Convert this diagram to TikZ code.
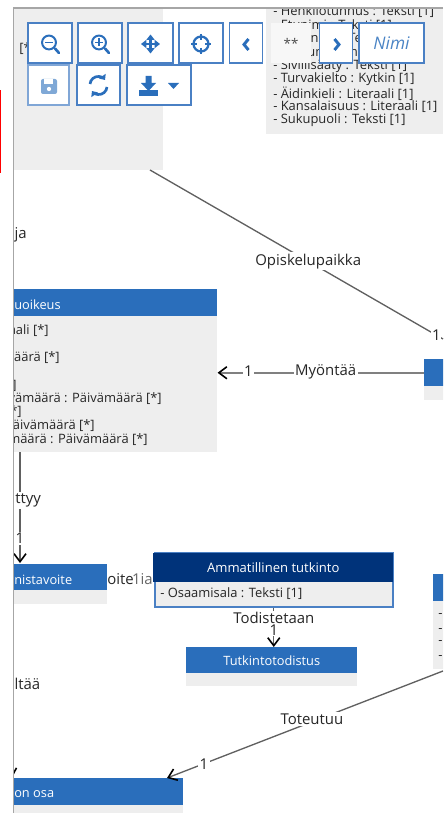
\documentclass[tikz,border=0pt]{standalone}
\usepackage{fontspec}
\setmainfont{Open Sans}
\usetikzlibrary{arrows.meta}
\definecolor{classblue}{HTML}{2A6EBB}
\definecolor{darkblue}{HTML}{00337A}
\definecolor{classgray}{HTML}{EEEEEE}
\definecolor{btnblue}{HTML}{4A80C4}
\definecolor{linegray}{HTML}{606060}
\tikzset{
	classhead/.style={fill=classblue, text=white, inner sep=0pt, font=\fontsize{9.6}{11}\selectfont},
	classbody/.style={fill=classgray, inner sep=0pt},
	headtxt/.style={anchor=west, inner sep=0pt, yshift=-0.7pt, text=white, font=\fontsize{9.6}{11}\selectfont},
	attr/.style={anchor=west, inner sep=0pt, yshift=-1.2pt, font=\fontsize{9.7}{11}\selectfont, text=black!85},
	lbl/.style={fill=white, inner sep=1pt, font=\fontsize{11.2}{13}\selectfont, text=black!85},
	btn/.style={draw=btnblue, line width=1pt, fill=white, minimum height=40*0.75pt, inner sep=0pt},
	conn/.style={draw=linegray, line width=1pt},
	tip/.style={-{Straight Barb[black,length=6pt,width=9pt,line width=1.2pt]}}
}
\begin{document}
\begin{tikzpicture}[x=0.75pt,y=-0.75pt]
	\useasboundingbox (0,0) rectangle (443,813);
	% frame and clipped page area
	\fill[red] (0,90) rectangle (1,173);
	\begin{scope}
		\clip (14,8) rectangle (443,813);
		% top classes
		\node (topleft) [classbody, minimum width=150*0.75pt, minimum height=161*0.75pt, anchor=north west] at (13,9) {};
		\node (person) [classbody, minimum width=177*0.75pt, minimum height=125*0.75pt, anchor=north west] at (266,9) {};
		\node (rowa) [attr] at (273,10.5) {- Henkilötunnus : Teksti [1]};
		\node (rowb) [attr] at (273,24) {- Etunimi : Teksti [1]};
		\node (rowc) [attr] at (273,37.5) {- Sukunimi : Teksti [1]};
		\node (rowd) [attr] at (273,51) {- Kutsumanimi : Teksti [1]};
		\node (rowe) [attr] at (273,64.5) {- Siviilisääty : Teksti [1]};
		\node (rowf) [attr] at (273,78) {- Turvakielto : Kytkin [1]};
		\node (rowg) [attr] at (273,92) {- Äidinkieli : Literaali [1]};
		\node (rowh) [attr] at (273,105) {- Kansalaisuus : Literaali [1]};
		\node (rowi) [attr] at (273,119) {- Sukupuoli : Teksti [1]};
		\node (star) [attr] at (19,47) {[*};
		% right edge classes
		\node (myontaja) [classhead, minimum width=40*0.75pt, minimum height=27*0.75pt, anchor=north west] at (424,359) {};
		\node (myontajabody) [classbody, minimum width=40*0.75pt, minimum height=14*0.75pt, anchor=north west] at (424,386) {};
		\node (toteutus) [classhead, minimum width=30*0.75pt, minimum height=27*0.75pt, anchor=north west] at (433,574) {};
		\node (toteutusbody) [classbody, minimum width=30*0.75pt, minimum height=68*0.75pt, anchor=north west] at (433,601) {};
		\foreach \y in {614,629,641,656} \node [attr] at (438,\y) {-};
		% oikeus
		\node (oikeus) [classhead, minimum width=204*0.75pt, minimum height=27*0.75pt, anchor=north west] at (13,289) {};
		\node (oikeustxt) [headtxt] at (14,304) {uoikeus};
		\node (oikeusbody) [classbody, minimum width=204*0.75pt, minimum height=136*0.75pt, anchor=north west] at (13,316) {};
		\node (oa) [attr, anchor=east] at (49,329) {aali [*]};
		\node (ob) [attr, anchor=east] at (60,356) {näärä [*]};
		\node (oc) [attr, anchor=east] at (17,384) {]};
		\node (od) [attr, anchor=east] at (162,397) {ivämäärä : Päivämäärä [*]};
		\node (oe) [attr, anchor=east] at (22,410) {*]};
		\node (of) [attr, anchor=east] at (95,424) {Päivämäärä [*]};
		\node (og) [attr, anchor=east] at (148,438) {määrä : Päivämäärä [*]};
		% koulutus
		\node (tavoite) [classhead, minimum width=94*0.75pt, minimum height=26*0.75pt, anchor=north west] at (13,564) {};
		\node (tavoitetxt) [headtxt] at (14,579) {nistavoite};
		\node (tavoitebody) [classbody, minimum width=94*0.75pt, minimum height=14*0.75pt, anchor=north west] at (13,590) {};
		\node (osa) [classhead, minimum width=170*0.75pt, minimum height=27*0.75pt, anchor=north west] at (13,778) {};
		\node (osatxt) [headtxt] at (14,793) {on osa};
		\node (osabody) [classbody, minimum width=170*0.75pt, minimum height=10*0.75pt, anchor=north west] at (13,805) {};
		% connectors at the frame
		\coordinate (kohde) at (20,452);
		\draw[conn, tip] (kohde) -- node[lbl, anchor=west, pos=0.425, xshift=-5pt, yshift=-1pt] {ttyy} node[lbl, pos=0.78] {1} (20,563);
		\coordinate (sisalto) at (0,700);
		\draw[conn, tip] (sisalto) -- (12,778);
		\node (ja) [lbl, fill=none, anchor=west] at (13,235) {ja};
		\node (sisaltaa) [lbl, fill=none, anchor=west] at (13,684) {ltää};
	\end{scope}
	\draw[black!35, line width=1.1pt] (443,8) -- (13.5,8) -- (13.5,813);
	% centre classes
	\node (tutkinto) [draw=btnblue, line width=1.2pt, fill=classgray, minimum width=238*0.75pt, minimum height=54*0.75pt, anchor=north west, inner sep=0pt] at (154,552) {};
	\node (tutkintohead) [fill=darkblue, text=white, minimum width=240*0.75pt, minimum height=29*0.75pt, anchor=north west, inner sep=0pt, yshift=-0.5pt, font=\fontsize{9.8}{11}\selectfont] at (153,552) {Ammatillinen tutkinto};
	\node (osaamisala) [attr] at (160,592) {- Osaamisala : Teksti [1]};
	\node (todistus) [classhead, minimum width=171*0.75pt, minimum height=26*0.75pt, anchor=north west] at (186,647) {Tutkintotodistus};
	\node (todistusbody) [classbody, minimum width=171*0.75pt, minimum height=13*0.75pt, anchor=north west] at (186,673) {};
	% connectors with labels
	\coordinate (paikka) at (150,170);
	\coordinate (oikea) at (443,339);
	\draw[conn] (paikka) -- node[lbl, pos=0.54] {Opiskelupaikka} node[lbl, pos=0.977, inner sep=0.5pt] {1} (oikea);
	\draw[conn, line width=1.2pt, draw=black!50, tip] (myontaja.west) -- node[lbl, pos=0.476, yshift=1pt] {Myöntää} node[lbl, pos=0.85, yshift=1pt] {1} (oikeusbody.east |- myontaja.west);
	\coordinate (toteuma) at (443,671);
	\draw[conn, tip] (toteuma) -- node[lbl, pos=0.475, yshift=2pt] {Toteutuu} node[lbl, pos=0.866] {1} (167,778);
	\draw[conn, tip] (tutkinto.south) -- node[lbl, pos=0.27] {Todistetaan} node[lbl, pos=0.58, inner ysep=0pt] {1} (tutkinto.south |- todistus.north);
	\node (oite) [lbl, fill=none, anchor=west, inner sep=0pt] at (107,579) {oite};
	\node (yksiia) [lbl, fill=none, anchor=east, inner sep=0pt, text=black!60] at (153,579) {1ia};
	% toolbar
	\node (zoomout) [btn, minimum width=44*0.75pt] at (50,43) {};
	\node (zoomin) [btn, minimum width=44*0.75pt] at (100,43) {};
	\node (move) [btn, minimum width=45*0.75pt] at (150.5,43) {};
	\node (center) [btn, minimum width=44*0.75pt] at (201,43) {};
	\node (prev) [btn, minimum width=33*0.75pt] at (246,43) {};
	\node (stars) [fill=black!3, minimum width=40*0.75pt, minimum height=40*0.75pt, inner sep=0pt, text=black!70, font=\fontsize{10}{11}\selectfont] at (291,43) {**};
	\node (next) [btn, minimum width=33*0.75pt] at (336,43) {};
	\node (nimi) [btn, minimum width=65*0.75pt, text=classblue!85, font=\itshape\fontsize{13}{14}\selectfont] at (391.5,43) {Nimi};
	\node (save) [btn, draw=btnblue!70, minimum width=41*0.75pt] at (48.5,85) {};
	\node (reload) [btn, minimum width=43*0.75pt] at (98.5,85) {};
	\node (download) [btn, minimum width=64*0.75pt] at (159,85) {};
	% button icons
	\foreach \x/\n in {49/zoomout, 99/zoomin} {
		\draw[classblue, line width=1.5pt] (\x,42.5) circle[radius=5.2pt];
		\draw[classblue, line width=2pt, line cap=round] (\x+6,48.5) -- (\x+10,53);
		\draw[classblue, line width=1.2pt] (\x-4,42.5) -- (\x+4,42.5);
	}
	\draw[classblue, line width=1.2pt] (99,38.5) -- (99,46.5);
	\draw[classblue, line width=1.7pt, {Triangle[length=4pt,width=6pt]}-{Triangle[length=4pt,width=6pt]}] (141,44) -- (160,44);
	\draw[classblue, line width=1.7pt, {Triangle[length=4pt,width=6pt]}-{Triangle[length=4pt,width=6pt]}] (150.5,34.5) -- (150.5,53.5);
	\draw[classblue, line width=1.7pt] (201,44) circle[radius=5.6pt];
	\draw[classblue, line width=2pt] (201,34) -- (201,40) (201,48) -- (201,54) (191,44) -- (197,44) (205,44) -- (211,44);
	\draw[classblue, line width=2.2pt] (248.5,39) -- (244,44.5) -- (248.5,50);
	\draw[classblue, line width=2.2pt] (334.5,39) -- (339,44.5) -- (334.5,50);
	\fill[classblue!60, rounded corners=1.5pt] (41,79) rectangle (57,94);
	\fill[white] (44,79) rectangle (53,84);
	\fill[white] (49,89) circle[radius=1.6pt];
	\draw[classblue, line width=2pt, -{Triangle[length=3.5pt,width=6pt]}] (90,84) arc[start angle=175, end angle=35, radius=6.2pt];
	\draw[classblue, line width=2pt, -{Triangle[length=3.5pt,width=6pt]}] (107,87) arc[start angle=-5, end angle=-145, radius=6.2pt];
	\fill[classblue] (139,90) rectangle (158,96);
	\fill[classblue] (145.5,76) -- (151.5,76) -- (151.5,83) -- (156,83) -- (148.5,91) -- (141,83) -- (145.5,83) -- cycle;
	\fill[classblue] (168,83) -- (179,83) -- (173.5,89) -- cycle;
\end{tikzpicture}
\end{document}
